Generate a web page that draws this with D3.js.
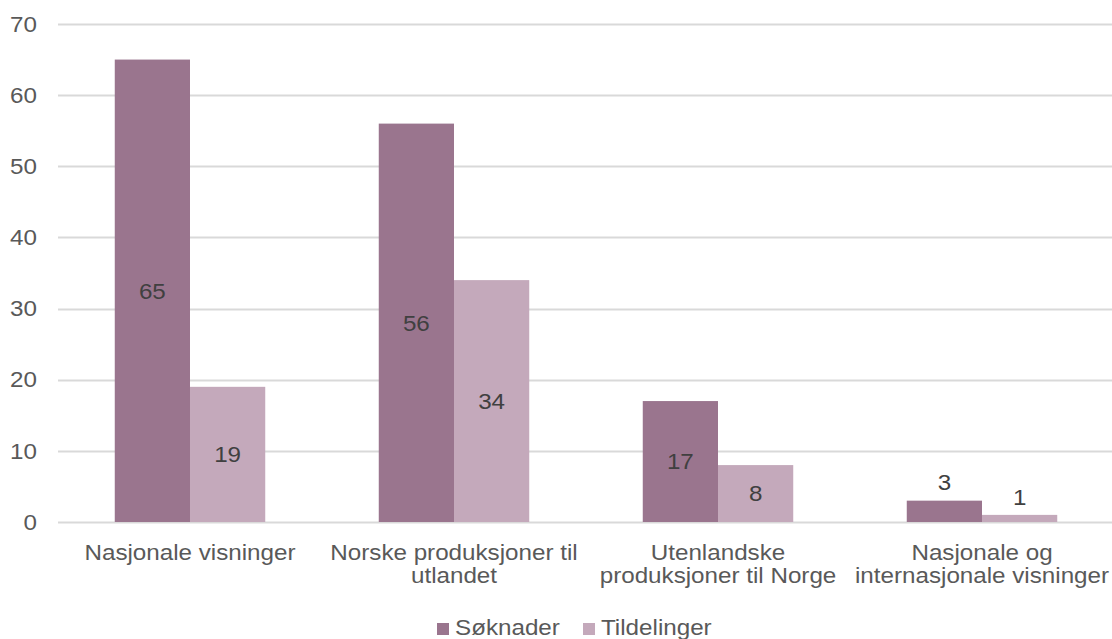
<!DOCTYPE html>
<html>
<head>
<meta charset="utf-8">
<script src="https://cdn.jsdelivr.net/npm/d3@7"></script>
<style>
  body { margin: 0; background: #fff; }
  text { font-family: "Liberation Sans", Arial, sans-serif; }
</style>
</head>
<body>
<div id="chart"></div>
<script>
// data
const categories = [
  "Nasjonale visninger",
  "Norske produksjoner til\nutlandet",
  "Utenlandske\nproduksjoner til Norge",
  "Nasjonale og\ninternasjonale visninger"
];
const seriesNames = ["Søknader", "Tildelinger"];
const soknader = [65, 56, 17, 3];
const tildelinger = [19, 34, 8, 1];
const yTicks = [0, 10, 20, 30, 40, 50, 60, 70];

const colors = ["#9a758e", "#c4a9bb"];
// the reference text is a little wider than it is tall
const stretch = 1.1;

const width = 1112, height = 639;
const svg = d3.select("#chart").append("svg")
  .attr("width", width)
  .attr("height", height);

let x = d3.scaleBand()
  .domain(categories)
  .range([58, 1114])
  .paddingInner(0.43)
  .paddingOuter(0.215);

let xs = d3.scaleBand()
  .domain(seriesNames)
  .range([0, x.bandwidth()]);

let y = d3.scaleLinear()
  .domain([0, 70])
  .range([522, 24]);

function place(px, py) {
  return "translate(" + px + "," + py + ") scale(" + stretch + ",1)";
}

// gridlines
svg.append("g")
  .selectAll("line")
  .data(yTicks)
  .join("line")
  .attr("x1", 58)
  .attr("x2", width)
  .attr("y1", d => Math.round(y(d)) + 0.5)
  .attr("y2", d => Math.round(y(d)) + 0.5)
  .attr("stroke", "#d9d9d9")
  .attr("stroke-width", 2);

// y tick labels
svg.append("g")
  .selectAll("text")
  .data(yTicks)
  .join("text")
  .attr("transform", d => place(37, y(d)))
  .attr("dy", "0.35em")
  .attr("text-anchor", "end")
  .attr("font-size", "22px")
  .attr("fill", "#595959")
  .text(d => d);

// bars
const rows = categories.map((c, i) => ({
  cat: c,
  vals: [
    { s: seriesNames[0], v: soknader[i] },
    { s: seriesNames[1], v: tildelinger[i] }
  ]
}));

let groups = svg.append("g")
  .selectAll("g")
  .data(rows)
  .join("g")
  .attr("transform", d => "translate(" + x(d.cat) + ",0)");

groups.selectAll("rect")
  .data(d => d.vals)
  .join("rect")
  .attr("x", d => xs(d.s))
  .attr("width", xs.bandwidth())
  .attr("y", d => y(d.v))
  .attr("height", d => y(0) - y(d.v))
  .attr("fill", (d, i) => colors[i]);

// value labels: centred inside, or above when the bar is short
groups.selectAll("text")
  .data(d => d.vals)
  .join("text")
  .attr("transform", d => place(
    xs(d.s) + xs.bandwidth() / 2,
    (y(0) - y(d.v) > 40) ? (y(d.v) + y(0)) / 2 : y(d.v) - 18))
  .attr("dy", "0.35em")
  .attr("text-anchor", "middle")
  .attr("font-size", "22px")
  .attr("fill", "#404040")
  .text(d => d.v);

// category labels
svg.append("g")
  .selectAll("text")
  .data(categories)
  .join("text")
  .attr("transform", d => place(x(d) + x.bandwidth() / 2, 560))
  .attr("text-anchor", "middle")
  .attr("font-size", "22px")
  .attr("fill", "#595959")
  .each(function (d) {
    d.split("\n").forEach((line, i) => {
      d3.select(this).append("tspan")
        .attr("x", 0)
        .attr("dy", i == 0 ? 0 : 23)
        .text(line);
    });
  });

// legend
const legendX = [437, 583];
let legend = svg.append("g")
  .selectAll("g")
  .data(seriesNames)
  .join("g")
  .attr("transform", (d, i) => "translate(" + legendX[i] + ",623)");

legend.append("rect")
  .attr("width", 12)
  .attr("height", 12)
  .attr("fill", (d, i) => colors[i]);

legend.append("text")
  .attr("transform", place(18, 12))
  .attr("font-size", "22px")
  .attr("fill", "#595959")
  .text(d => d);
</script>
</body>
</html>
